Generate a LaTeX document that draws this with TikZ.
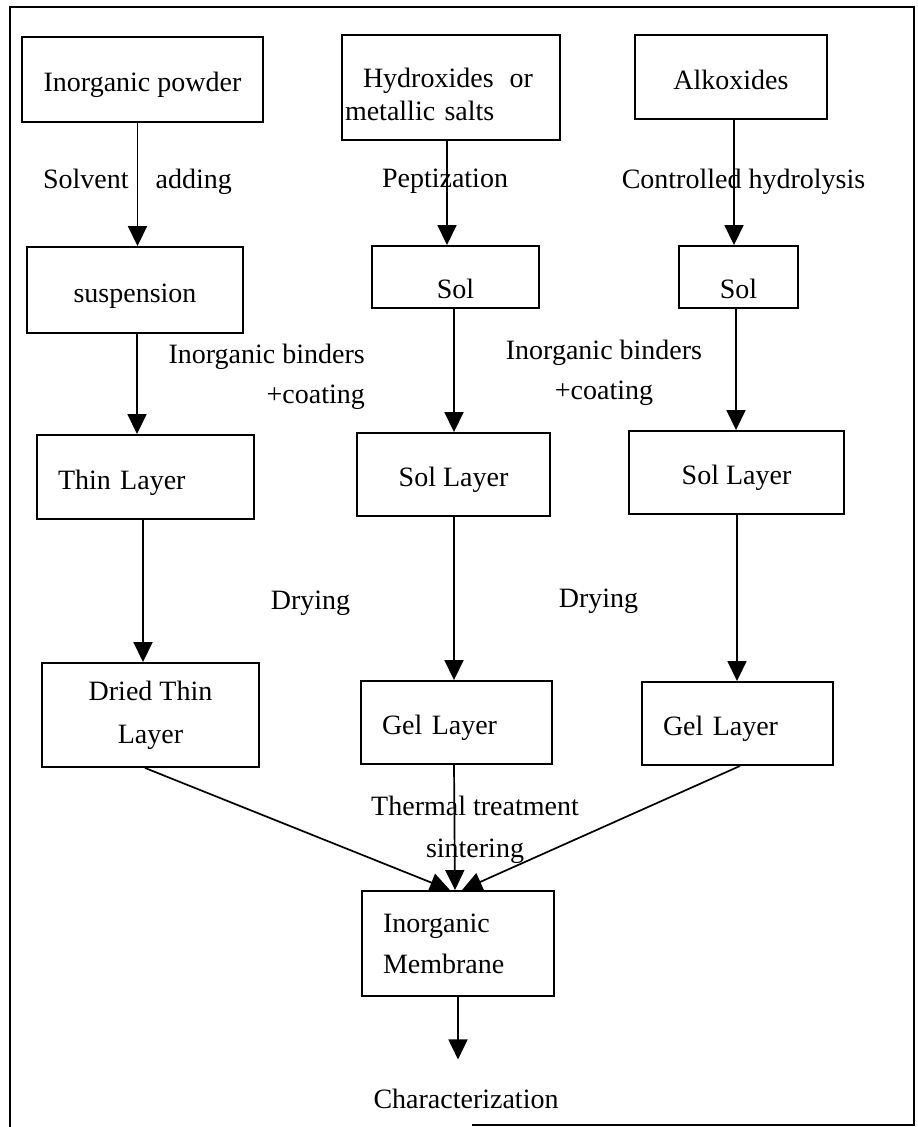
\documentclass[tikz,border=0pt]{standalone}
\usepackage{fontspec}
\setmainfont{Liberation Serif}
\usetikzlibrary{arrows.meta}

\begin{document}
\begin{tikzpicture}[x=1pt,y=-1pt]
    \tikzset{stage/.style = {shape=rectangle,draw,line width=1.9pt,inner sep=0pt,font=\fontsize{28}{42}\selectfont}}
    \tikzset{oneline/.style = {text height=24pt,text depth=0pt}}
    \tikzset{flow/.style = {line width=1.7pt,-{Triangle[width=19pt,length=20pt]}}}
    \tikzset{lbl/.style = {inner sep=0pt,font=\fontsize{28}{40}\selectfont}}
    \useasboundingbox (0,0) rectangle (918,1127);
    % frame
    \draw[line width=2pt] (472,1125) -- (914,1125) -- (914,7) -- (10,7) -- (10,1127);
    % starting materials
    \node[stage,oneline,minimum width=241pt,minimum height=85pt] (powder) at (142.5,79.5) {Inorganic powder};
    \node[stage,minimum width=218pt,minimum height=105pt,text width=212pt,inner xsep=3pt,align=left,
          font=\fontsize{28}{33}\selectfont] (hydrox) at (451,87.5)
          {\rule{0pt}{34pt}\hspace*{18pt}Hydroxides\hspace{16pt}or\\metallic salts};
    \node[stage,oneline,minimum width=192pt,minimum height=84pt] (alkox) at (731,77) {Alkoxides};
    % second row
    \node[stage,oneline,minimum width=216pt,minimum height=86pt] (susp) at (135,290) {suspension};
    \node[stage,text height=42pt,text depth=0pt,minimum width=167pt,minimum height=62pt] (solm) at (455.5,277) {Sol};
    \node[stage,text height=42pt,text depth=0pt,minimum width=119pt,minimum height=62pt] (solr) at (738.5,277) {Sol};
    % layers
    \node[stage,oneline,minimum width=217pt,minimum height=84pt,text width=175pt,inner xsep=21pt,align=left] (thin) at (145.5,477) {Thin Layer};
    \node[stage,oneline,minimum width=193pt,minimum height=83pt] (solLm) at (453.5,474.5) {Sol Layer};
    \node[stage,oneline,minimum width=215pt,minimum height=83pt] (solLr) at (736.5,472.5) {Sol Layer};
    \node[stage,minimum width=217pt,minimum height=104pt,align=center,font=\fontsize{28}{43}\selectfont] (dried) at (150.5,715) {Dried Thin\\Layer};
    \node[stage,oneline,minimum width=191pt,minimum height=83pt,text width=149pt,inner xsep=21pt,align=left] (gelm) at (456.5,722.5) {Gel Layer};
    \node[stage,oneline,minimum width=191pt,minimum height=83pt,text width=149pt,inner xsep=21pt,align=left] (gelr) at (737.5,723.5) {Gel Layer};
    % membrane
    \node[stage,minimum width=192pt,minimum height=105pt,text width=150pt,inner xsep=21pt,align=left,
          font=\fontsize{28}{41}\selectfont] (memb) at (458,943.5) {Inorganic\\Membrane};
    \node[lbl] (chara) at (466,1098.5) {Characterization};
    % step labels
    \node[lbl] (solvent) at (137.5,181.5) {Solvent\hspace{27pt}adding};
    \node[lbl] (pept) at (445,181.5) {Peptization};
    \node[lbl] (hydrol) at (743.5,181.5) {Controlled hydrolysis};
    \node[lbl,align=right,anchor=east] (bindl) at (365,376.5) {Inorganic binders\\+coating};
    \node[lbl,align=center] (bindr) at (604,373) {Inorganic binders\\+coating};
    \node[lbl] (dryl) at (310.5,603.5) {Drying};
    \node[lbl] (dryr) at (598.5,601.5) {Drying};
    \node[lbl,align=center,font=\fontsize{28}{42}\selectfont] (thermal) at (475,829.5) {Thermal treatment\\sintering};
    %edges
    \draw[flow] (powder.south -| 137.5,0) -- (susp.north -| 137.5,0);
    \draw[flow] (hydrox.south -| 447,0) -- (solm.north -| 447,0);
    \draw[flow] (alkox.south -| 734,0) -- (solr.north -| 734,0);
    \draw[flow] (susp.south -| 137,0) -- (thin.north -| 137,0);
    \draw[flow] (solm.south -| 454,0) -- (solLm.north -| 454,0);
    \draw[flow] (solr.south -| 736,0) -- (solLr.north -| 736,0);
    \draw[flow] (thin.south -| 143,0) -- (dried.north -| 143,0);
    \draw[flow] (solLm.south -| 454,0) -- (gelm.north -| 454,0);
    \draw[flow] (solLr.south -| 737,0) -- (gelr.north -| 737,0);
    \draw[flow] (dried.south -| 145,0) -- (memb.north -| 450,0);
    \draw[flow] (gelm.south -| 454,0) -- (memb.north -| 455,0);
    \draw[flow] (gelr.south -| 740,0) -- (memb.north -| 462,0);
    \draw[flow,shorten >=29pt] (memb.south) -- (chara.north -| memb.south);
\end{tikzpicture}
\end{document}
